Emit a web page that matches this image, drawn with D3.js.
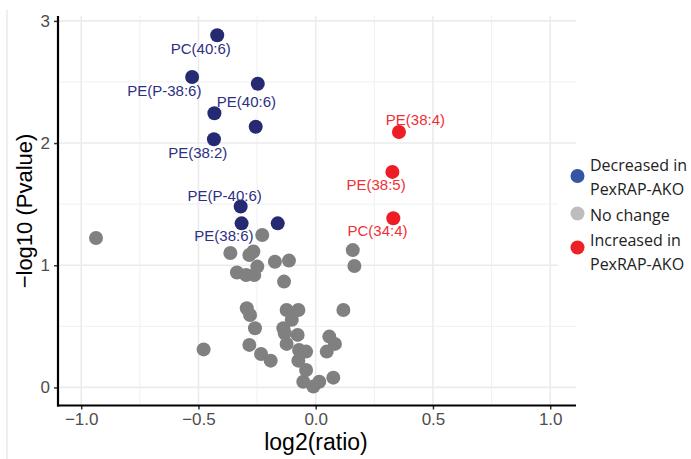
<!DOCTYPE html>
<html>
<head>
<meta charset="utf-8">
<script src="https://cdn.jsdelivr.net/npm/d3@7"></script>
<style>
body { margin:0; background:#fff; }
text { font-family: "Liberation Sans", Arial, sans-serif; }
</style>
</head>
<body>
<div id="chart-area"></div>
<script>

// decreased in PexRAP-AKO
var decNames = ["PC(40:6)", "PE(P-38:6)", "PE(40:6)", "", "", "PE(38:2)", "PE(P-40:6)", "PE(38:6)", ""];
var decX = [-0.420, -0.527, -0.247, -0.432, -0.256, -0.434, -0.320, -0.316, -0.162];
var decY = [2.882, 2.541, 2.486, 2.244, 2.134, 2.031, 1.481, 1.343, 1.343];

// increased in PexRAP-AKO
var incNames = ["PE(38:4)", "PE(38:5)", "PC(34:4)"];
var incX = [0.355, 0.327, 0.331];
var incY = [2.091, 1.764, 1.385];

// no change
var ncX = [-0.937, -0.228, -0.364, -0.283, -0.266, 0.158, -0.174, -0.114, 0.165, -0.249,
           -0.336, -0.297, -0.262, -0.135, -0.294, -0.280, -0.124, -0.074, -0.102, 0.118,
           -0.259, -0.138, -0.132, -0.077, -0.478, -0.283, -0.124, -0.233, -0.192, -0.071,
           -0.041, -0.074, 0.058, 0.082, 0.047, -0.041, -0.053, -0.010, 0.015, 0.075];
var ncY = [1.223, 1.248, 1.100, 1.084, 1.112, 1.124, 1.029, 1.038, 0.994, 0.989,
           0.940, 0.920, 0.920, 0.866, 0.648, 0.593, 0.634, 0.634, 0.554, 0.634,
           0.484, 0.484, 0.443, 0.430, 0.311, 0.348, 0.356, 0.274, 0.219, 0.306,
           0.293, 0.219, 0.416, 0.356, 0.293, 0.142, 0.047, 0.007, 0.047, 0.080];

var xTicks = [-1, -0.5, 0, 0.5, 1];
var yTicks = [0, 1, 2, 3];
var legendLabels = [["Decreased in", "PexRAP-AKO"], ["No change"], ["Increased in", "PexRAP-AKO"]];

// label nudges (px) from each point, ggrepel-ish placement
var decNudge = [[-16.5, 13.5], [-27.8, 13.5], [-11.4, 17.5], null, null, [-16.2, 13.5], [-16, -11], [-17.7, 12.5], null];
var incNudge = [[16.5, -12], [-16.3, 13], [-15.8, 12.7]];

var margin = { left:58, right:115, top:16, bottom:53.5 },
    width = 691 - margin.left - margin.right,
    height = 459 - margin.top - margin.bottom;

var svg = d3.select("#chart-area")
    .append("svg")
    .attr("width", 691)
    .attr("height", 459);

// faint frame line at far left
svg.append("line")
    .attr("x1", 7).attr("x2", 7)
    .attr("y1", 10).attr("y2", 459)
    .attr("stroke", "#e3e3e3")
    .attr("stroke-width", 1.2);

var g = svg.append("g")
    .attr("transform", "translate(" + margin.left + "," + margin.top + ")");

var x = d3.scaleLinear().domain([-1.099, 1.110]).range([0, width]);
var y = d3.scaleLinear().domain([-0.148, 3.04]).range([height, 0]);

// grid
var xMinor = [-0.75, -0.25, 0.25, 0.75];
var yMinor = [0.5, 1.5, 2.5];
g.selectAll(".gx-minor").data(xMinor).enter().append("line")
    .attr("x1", d => x(d)).attr("x2", d => x(d))
    .attr("y1", 0).attr("y2", height)
    .attr("stroke", "#f0f0f0").attr("stroke-width", 1);
g.selectAll(".gy-minor").data(yMinor).enter().append("line")
    .attr("x1", 0).attr("x2", width)
    .attr("y1", d => y(d)).attr("y2", d => y(d))
    .attr("stroke", "#f0f0f0").attr("stroke-width", 1);
g.selectAll(".gx").data(xTicks).enter().append("line")
    .attr("x1", d => x(d)).attr("x2", d => x(d))
    .attr("y1", 0).attr("y2", height)
    .attr("stroke", "#ebebeb").attr("stroke-width", 1.6);
g.selectAll(".gy").data(yTicks).enter().append("line")
    .attr("x1", 0).attr("x2", width)
    .attr("y1", d => y(d)).attr("y2", d => y(d))
    .attr("stroke", "#ebebeb").attr("stroke-width", 1.6);

// legend background hides grid under it
svg.append("rect")
    .attr("x", 558).attr("y", 150)
    .attr("width", 133).attr("height", 132)
    .attr("fill", "#fff");

// points
var ncData = ncX.map(function(d, i){ return { x: d, y: ncY[i] }; });
var decData = decX.map(function(d, i){ return { x: d, y: decY[i], name: decNames[i], nudge: decNudge[i] }; });
var incData = incX.map(function(d, i){ return { x: d, y: incY[i], name: incNames[i], nudge: incNudge[i] }; });

g.selectAll(".nc").data(ncData).enter().append("circle")
    .attr("cx", d => x(d.x)).attr("cy", d => y(d.y))
    .attr("r", 7).attr("fill", "#808080");

g.selectAll(".dec").data(decData).enter().append("circle")
    .attr("cx", d => x(d.x)).attr("cy", d => y(d.y))
    .attr("r", 7).attr("fill", "#262a72");

g.selectAll(".inc").data(incData).enter().append("circle")
    .attr("cx", d => x(d.x)).attr("cy", d => y(d.y))
    .attr("r", 7).attr("fill", "#ee1c25");

// labels
g.selectAll(".dec-label").data(decData.filter(d => d.name)).enter().append("text")
    .attr("x", d => x(d.x) + d.nudge[0])
    .attr("y", d => y(d.y) + d.nudge[1])
    .attr("text-anchor", "middle")
    .attr("dominant-baseline", "central")
    .attr("font-size", "15px")
    .attr("fill", "#2d3080")
    .text(d => d.name);

g.selectAll(".inc-label").data(incData).enter().append("text")
    .attr("x", d => x(d.x) + d.nudge[0])
    .attr("y", d => y(d.y) + d.nudge[1])
    .attr("text-anchor", "middle")
    .attr("dominant-baseline", "central")
    .attr("font-size", "15px")
    .attr("fill", "#ef3036")
    .text(d => d.name);

// axes
var xAxisCall = d3.axisBottom(x).tickValues(xTicks).tickSize(4).tickPadding(3)
    .tickFormat(d3.format(".1f"));
var xAxis = g.append("g")
    .attr("transform", "translate(0," + height + ")")
    .call(xAxisCall);
xAxis.select(".domain").remove();
xAxis.selectAll("text").attr("font-size", "17px").attr("fill", "#4d4d4d")
    .style("font-family", "'Liberation Sans', Arial, sans-serif");
xAxis.selectAll("line").attr("stroke", "#333").attr("stroke-width", 1.5);

var yAxisCall = d3.axisLeft(y).tickValues(yTicks).tickSize(4).tickPadding(4)
    .tickFormat(d3.format("d"));
var yAxis = g.append("g").call(yAxisCall);
yAxis.select(".domain").remove();
yAxis.selectAll("text").attr("font-size", "17px").attr("fill", "#4d4d4d")
    .style("font-family", "'Liberation Sans', Arial, sans-serif");
yAxis.selectAll("line").attr("stroke", "#333").attr("stroke-width", 1.5);

g.append("line")
    .attr("x1", 0).attr("x2", 0).attr("y1", 0).attr("y2", height + 1)
    .attr("stroke", "#000").attr("stroke-width", 2.2);
g.append("line")
    .attr("x1", -1).attr("x2", width).attr("y1", height).attr("y2", height)
    .attr("stroke", "#000").attr("stroke-width", 2.2);

// axis titles
svg.append("text")
    .attr("x", 316).attr("y", 450)
    .attr("text-anchor", "middle")
    .attr("font-size", "23px")
    .text("log2(ratio)");

svg.append("text")
    .attr("transform", "translate(32,211) rotate(-90)")
    .attr("text-anchor", "middle")
    .attr("font-size", "22px")
    .text("\u2212log10 (Pvalue)");

// legend
var legColors = ["#3454a4", "#bdbdbd", "#ec2227"];
var legKeyY = [176, 213.5, 247.5];
var legTextY = [[165, 188.5], [215], [240, 263.5]];
var leg = svg.append("g");
legendLabels.forEach(function(lines, i){
    leg.append("circle")
        .attr("cx", 577.5).attr("cy", legKeyY[i])
        .attr("r", 7).attr("fill", legColors[i]);
    lines.forEach(function(t, j){
        leg.append("text")
            .attr("x", 590).attr("y", legTextY[i][j])
            .attr("dominant-baseline", "central")
            .attr("font-size", "16px")
            .attr("fill", "#222")
            .style("font-family", "'Open Sans', sans-serif")
            .text(t);
    });
});

</script>
</body>
</html>
